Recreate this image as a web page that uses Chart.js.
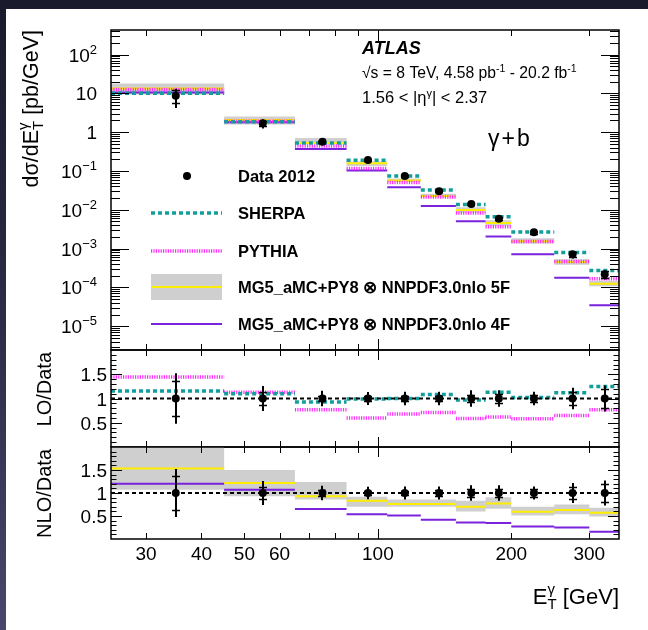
<!DOCTYPE html>
<html>
<head>
<meta charset="utf-8">
<title>gamma + b cross section</title>
<script src="https://cdn.jsdelivr.net/npm/chart.js@4.4.1/dist/chart.umd.min.js"></script>
<style>
  html, body { margin: 0; padding: 0; }
  body { width: 648px; height: 630px; overflow: hidden; position: relative;
         background: linear-gradient(180deg, #191a2c 0%, #2b2c46 50%, #46476b 100%); }
  #sheet { position: absolute; left: 6px; top: 9px; width: 642px; height: 621px; background: #fff; }
  canvas { position: absolute; left: 0; top: 0; }
</style>
</head>
<body>
<div id="sheet"></div>
<canvas id="main" width="648" height="630"></canvas>
<canvas id="lo" width="648" height="630"></canvas>
<canvas id="nlo" width="648" height="630"></canvas>
<script>
const FONT = '"Liberation Sans", Arial, Helvetica, sans-serif';
Chart.defaults.font.family = FONT;

// E_T^gamma binning [GeV]
const binEdges   = [25, 45, 65, 85, 105, 125, 150, 175, 200, 250, 300, 350];
const binCentres = [35, 55, 75, 95, 115, 137.5, 162.5, 187.5, 225, 275, 325];

// Data 2012, dsigma/dEt [pb/GeV], relative stat and total uncertainties
const dataXs  = [8.7, 1.69, 0.568, 0.192, 0.0743, 0.0300, 0.0141, 0.0059, 0.00264, 0.000714, 0.000219];
const statRel = [0.37, 0.13, 0.06, 0.05, 0.05, 0.06, 0.08, 0.09, 0.08, 0.13, 0.19];
const totRel  = [0.52, 0.26, 0.16, 0.135, 0.14, 0.14, 0.17, 0.17, 0.14, 0.22, 0.27];

// LO generators / data
const sherpaRatio = [1.155, 1.10, 0.93, 0.99, 1.00, 1.08, 0.97, 1.13, 1.02, 1.12, 1.25];
const pythiaRatio = [1.445, 1.13, 0.77, 0.60, 0.68, 0.71, 0.59, 0.62, 0.58, 0.65, 0.77];

// NLO MG5_aMC+PY8 / data: 5F central value with its band, and 4F
const nlo5fRatio = [1.53, 1.22, 0.93, 0.83, 0.76, 0.76, 0.70, 0.77, 0.59, 0.63, 0.57];
const nlo5fLow   = [1.07, 0.93, 0.86, 0.70, 0.70, 0.70, 0.60, 0.66, 0.51, 0.54, 0.49];
const nlo5fHigh  = [2.05, 1.50, 1.24, 0.92, 0.86, 0.86, 0.83, 0.91, 0.70, 0.75, 0.68];
const nlo4fRatio = [1.20, 1.07, 0.65, 0.54, 0.51, 0.42, 0.36, 0.35, 0.27, 0.25, 0.16];

// axis ticks and labels
const xTickValues = [30, 40, 50, 60, 70, 80, 90, 100, 200, 300];
const xTickLabels = [30, 40, 50, 60, 100, 200, 300];
const yDecades    = [-5, -4, -3, -2, -1, 0, 1, 2];
const ratioLabels = [0.5, 1, 1.5];

// page geometry
const W = 648, H = 630;
const FRAME_L = 111, FRAME_R = 619;
const PANEL_MAIN = [30, 350], PANEL_LO = [350, 447], PANEL_NLO = [447, 539];
const X_MIN = 25, X_MAX = 350;
const Y_MIN = 2.45e-6, Y_MAX = 428;

const SHERPA_COL = '#149d9d', PYTHIA_COL = '#ff2bff', YELLOW = '#ffee00', VIOLET = '#7a22dc', BAND = '#cfcfcf';

// --- helpers -------------------------------------------------------------
const times = (r) => r.map((v, i) => v * dataXs[i]);

// horizontal bin segments, no vertical connectors
function histPoints(vals) {
  const pts = [];
  vals.forEach((v, i) => {
    pts.push({ x: binEdges[i], y: v }, { x: binEdges[i + 1], y: v }, { x: binEdges[i + 1], y: null });
  });
  return pts;
}
// contiguous outline for filled bands
function bandPoints(vals) {
  const pts = [];
  vals.forEach((v, i) => pts.push({ x: binEdges[i], y: v }, { x: binEdges[i + 1], y: v }));
  return pts;
}
function hist(vals, color, width, dash, order) {
  return { data: histPoints(vals), borderColor: color, borderWidth: width, borderDash: dash,
           borderCapStyle: 'butt', pointRadius: 0, fill: false, order };
}
function band(lo, hi) {
  return [
    { data: bandPoints(lo), borderWidth: 0, borderColor: 'rgba(0,0,0,0)', pointRadius: 0, fill: false, order: 20 },
    { data: bandPoints(hi), borderWidth: 0, borderColor: 'rgba(0,0,0,0)', pointRadius: 0,
      fill: '-1', backgroundColor: BAND, order: 19 }
  ];
}
function markers(vals) {
  return { data: binCentres.map((c, i) => ({ x: c, y: vals[i] })), showLine: false,
           pointRadius: 4, pointBackgroundColor: '#000', pointBorderColor: '#000', pointBorderWidth: 0, order: 0 };
}
function unity() {
  return { data: [{ x: X_MIN, y: 1 }, { x: X_MAX, y: 1 }], borderColor: '#000', borderWidth: 2,
           borderDash: [4, 3], pointRadius: 0, fill: false, order: 1 };
}

function font(size, w, it) { return `${it ? 'italic ' : ''}${w || 'normal'} ${size}px ${FONT}`; }
function richWidth(ctx, parts) {
  let w = 0;
  parts.forEach(p => {
    ctx.font = font(p.s, p.w, p.it);
    if (!p.stack) w += ctx.measureText(p.t).width + (p.gap || 0);
  });
  return w;
}
function drawRich(ctx, parts, x, y, align) {
  const w = richWidth(ctx, parts);
  let cx = align === 'right' ? x - w : align === 'center' ? x - w / 2 : x;
  ctx.textAlign = 'left';
  ctx.textBaseline = 'alphabetic';
  parts.forEach(p => {
    ctx.font = font(p.s, p.w, p.it);
    ctx.fillText(p.t, cx, y + (p.dy || 0));
    if (!p.stack) cx += ctx.measureText(p.t).width + (p.gap || 0);
  });
}
function rotatedTitle(ctx, parts, baseX, endY) {
  ctx.save();
  ctx.translate(baseX, endY);
  ctx.rotate(-Math.PI / 2);
  drawRich(ctx, parts, 0, 0, 'right');
  ctx.restore();
}

function logTicks() {
  const t = [];
  for (let k = -6; k <= 2; k++) {
    for (let m = 1; m <= 9; m++) {
      const v = m * Math.pow(10, k);
      if (v > Y_MIN && v < Y_MAX) t.push([v, m === 1 ? 18 : 9]);
    }
  }
  return t;
}
function ratioTicks() {
  const t = [];
  for (let i = 1; i < 20; i++) t.push([i / 10, i % 5 === 0 ? 11 : 5.5]);
  return t;
}

// ROOT style frame: ticks inside on all four sides
const rootFrame = {
  id: 'rootFrame',
  afterDraw(chart, args, opts) {
    const { ctx, chartArea: a } = chart;
    const x = chart.scales.x, y = chart.scales.y;
    ctx.save();
    ctx.strokeStyle = '#000';
    ctx.lineWidth = 1;
    ctx.beginPath();
    xTickValues.forEach(v => {
      const px = Math.round(x.getPixelForValue(v)) + 0.5;
      const len = v === 100 ? opts.xMajor : opts.xMinor;
      ctx.moveTo(px, a.bottom); ctx.lineTo(px, a.bottom - len);
      ctx.moveTo(px, a.top); ctx.lineTo(px, a.top + len);
    });
    opts.yTicks.forEach(([v, len]) => {
      const py = Math.round(y.getPixelForValue(v)) + 0.5;
      ctx.moveTo(a.left, py); ctx.lineTo(a.left + len, py);
      ctx.moveTo(a.right, py); ctx.lineTo(a.right - len, py);
    });
    ctx.stroke();
    ctx.lineWidth = 1.5;
    ctx.strokeRect(a.left, a.top, a.right - a.left, a.bottom - a.top);
    ctx.restore();
  }
};

// data error bars: vertical line for the total, small caps at the stat ends
function errorBars(centreOf) {
  return {
    id: 'dataErrors',
    afterDatasetsDraw(chart) {
      const { ctx, scales: { x, y } } = chart;
      ctx.save();
      ctx.strokeStyle = '#000';
      ctx.lineWidth = 2;
      ctx.beginPath();
      binCentres.forEach((c, i) => {
        const v = centreOf(i);
        const px = Math.round(x.getPixelForValue(c));
        ctx.moveTo(px, y.getPixelForValue(v * (1 + totRel[i])));
        ctx.lineTo(px, y.getPixelForValue(v * (1 - totRel[i])));
      });
      ctx.stroke();
      ctx.lineWidth = 1.5;
      ctx.beginPath();
      binCentres.forEach((c, i) => {
        const v = centreOf(i);
        const px = Math.round(x.getPixelForValue(c));
        [1 + statRel[i], 1 - statRel[i]].forEach(f => {
          const py = Math.round(y.getPixelForValue(v * f)) + 0.5;
          ctx.moveTo(px - 4, py); ctx.lineTo(px + 4, py);
        });
      });
      ctx.stroke();
      ctx.restore();
    }
  };
}

function makeChart(id, panel, yScale, datasets, yTicks, xMajor, xMinor, extras) {
  return new Chart(document.getElementById(id), {
    type: 'line',
    data: { datasets },
    options: {
      responsive: false,
      animation: false,
      devicePixelRatio: 1,
      events: [],
      layout: { padding: { left: FRAME_L, right: W - FRAME_R, top: panel[0], bottom: H - panel[1] } },
      scales: {
        x: { type: 'logarithmic', min: X_MIN, max: X_MAX, bounds: 'data', display: false },
        y: Object.assign({ bounds: 'data', display: false }, yScale)
      },
      plugins: {
        legend: { display: false },
        tooltip: { enabled: false },
        rootFrame: { yTicks, xMajor, xMinor }
      }
    },
    plugins: extras.concat([rootFrame])
  });
}

// --- top panel: cross section -------------------------------------------
const mainDecor = {
  id: 'mainDecor',
  afterDraw(chart) {
    const { ctx, scales: { y } } = chart;
    ctx.save();
    ctx.fillStyle = '#000';
    // y tick labels
    yDecades.forEach(k => {
      const py = y.getPixelForValue(Math.pow(10, k)) + 7;
      let parts;
      if (k === 0) parts = [{ t: '1', s: 19 }];
      else if (k === 1) parts = [{ t: '10', s: 19 }];
      else parts = [{ t: '10', s: 19 }, { t: (k < 0 ? '\u2212' : '') + Math.abs(k), s: 13, dy: -8 }];
      drawRich(ctx, parts, 97, py, 'right');
    });
    // axis title
    rotatedTitle(ctx, [{ t: 'd\u03c3/dE', s: 21.5 }, { t: '\u03b3', s: 15, dy: -10, stack: true },
                       { t: 'T', s: 15, dy: 5 }, { t: ' [pb/GeV]', s: 21.5 }], 38, PANEL_MAIN[0]);

    // labels
    drawRich(ctx, [{ t: 'ATLAS', s: 18, w: 'bold', it: true }], 362, 54, 'left');
    drawRich(ctx, [{ t: '\u221as = 8 TeV, 4.58 pb', s: 15.7 }, { t: '-1', s: 10.5, dy: -6 },
                   { t: ' - 20.2 fb', s: 15.7 }, { t: '-1', s: 10.5, dy: -6 }], 362, 78, 'left');
    drawRich(ctx, [{ t: '1.56 < |\u03b7', s: 16.5 }, { t: '\u03b3', s: 11, dy: -6 },
                   { t: '| < 2.37', s: 16.5 }], 362, 103, 'left');
    drawRich(ctx, [{ t: '\u03b3', s: 23, gap: 2 }, { t: '+', s: 23, gap: 2 }, { t: 'b', s: 23 }], 488, 146, 'left');

    // legend
    const lx0 = 151, lx1 = 222, tx = 238;
    const legendText = (t, yc) => drawRich(ctx, [{ t, s: 16.5, w: 'bold' }], tx, yc + 6, 'left');
    ctx.beginPath(); ctx.arc(187, 176, 4, 0, 2 * Math.PI); ctx.fill();
    legendText('Data 2012', 176);

    ctx.lineCap = 'butt';
    ctx.lineWidth = 3.5; ctx.strokeStyle = SHERPA_COL; ctx.setLineDash([4, 3]);
    ctx.beginPath(); ctx.moveTo(lx0, 213); ctx.lineTo(lx1, 213); ctx.stroke();
    legendText('SHERPA', 213);

    ctx.strokeStyle = PYTHIA_COL; ctx.setLineDash([1.2, 1.2]);
    ctx.beginPath(); ctx.moveTo(lx0, 251); ctx.lineTo(lx1, 251); ctx.stroke();
    legendText('PYTHIA', 251);

    ctx.setLineDash([]);
    ctx.fillStyle = BAND; ctx.fillRect(lx0, 274, lx1 - lx0, 26);
    ctx.strokeStyle = YELLOW; ctx.lineWidth = 2;
    ctx.beginPath(); ctx.moveTo(lx0, 287); ctx.lineTo(lx1, 287); ctx.stroke();
    ctx.fillStyle = '#000';
    legendText('MG5_aMC+PY8 \u2297 NNPDF3.0nlo 5F', 287);

    ctx.strokeStyle = VIOLET;
    ctx.beginPath(); ctx.moveTo(lx0, 324); ctx.lineTo(lx1, 324); ctx.stroke();
    legendText('MG5_aMC+PY8 \u2297 NNPDF3.0nlo 4F', 324);
    ctx.restore();
  }
};

makeChart('main', PANEL_MAIN, { type: 'logarithmic', min: Y_MIN, max: Y_MAX },
  [
    ...band(times(nlo5fLow), times(nlo5fHigh)),
    hist(times(nlo5fRatio), YELLOW, 2, [], 8),
    hist(times(nlo4fRatio), VIOLET, 2, [], 7),
    hist(times(pythiaRatio), PYTHIA_COL, 3.5, [1.2, 1.2], 6),
    hist(times(sherpaRatio), SHERPA_COL, 3.5, [4, 3], 5),
    markers(dataXs)
  ],
  logTicks(), 11, 6,
  [mainDecor, errorBars(i => dataXs[i])]);

// --- ratio panels --------------------------------------------------------
function ratioDecor(id, title, panel, withXAxis) {
  return {
    id,
    afterDraw(chart) {
      const { ctx, scales: { x, y } } = chart;
      ctx.save();
      ctx.fillStyle = '#000';
      ratioLabels.forEach(v => drawRich(ctx, [{ t: String(v), s: 19 }], 107, y.getPixelForValue(v) + 7, 'right'));
      rotatedTitle(ctx, [{ t: title, s: 20 }], 51, panel[0] + 2);
      if (withXAxis) {
        xTickLabels.forEach(v => drawRich(ctx, [{ t: String(v), s: 19 }], x.getPixelForValue(v), 560, 'center'));
        drawRich(ctx, [{ t: 'E', s: 22 }, { t: '\u03b3', s: 15, dy: -10, stack: true },
                       { t: 'T', s: 15, dy: 5 }, { t: ' [GeV]', s: 22 }], FRAME_R, 604, 'right');
      }
      ctx.restore();
    }
  };
}

makeChart('lo', PANEL_LO, { type: 'linear', min: 0, max: 2 },
  [
    hist(pythiaRatio, PYTHIA_COL, 3.5, [1.2, 1.2], 6),
    hist(sherpaRatio, SHERPA_COL, 3.5, [4, 3], 5),
    unity(),
    markers(binCentres.map(() => 1))
  ],
  ratioTicks(), 10, 6,
  [ratioDecor('loDecor', 'LO/Data', PANEL_LO, false), errorBars(() => 1)]);

makeChart('nlo', PANEL_NLO, { type: 'linear', min: 0, max: 2 },
  [
    ...band(nlo5fLow, nlo5fHigh),
    hist(nlo5fRatio, YELLOW, 2, [], 8),
    hist(nlo4fRatio, VIOLET, 2, [], 7),
    unity(),
    markers(binCentres.map(() => 1))
  ],
  ratioTicks(), 10, 6,
  [ratioDecor('nloDecor', 'NLO/Data', PANEL_NLO, true), errorBars(() => 1)]);
</script>
</body>
</html>
